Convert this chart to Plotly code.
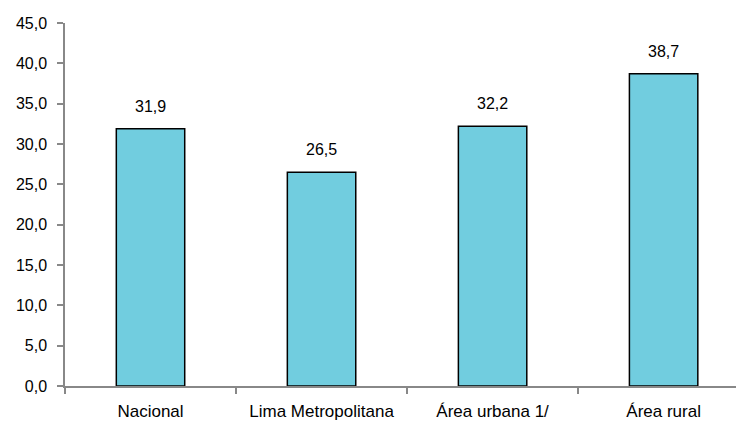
import plotly.graph_objects as go

categories = ["Nacional", "Lima Metropolitana", "Área urbana 1/", "Área rural"]
values = [31.9, 26.5, 32.2, 38.7]
y_ticks = [0, 5, 10, 15, 20, 25, 30, 35, 40, 45]

FONT = "Liberation Sans Narrow, Arial Narrow, Liberation Sans, Arial, sans-serif"

fig = go.Figure()
fig.add_trace(go.Bar(
    x=categories, y=values,
    marker=dict(color="#71CDDF", line=dict(color="#000000", width=1.5)),
))

for c, v in zip(categories, values):
    fig.add_annotation(x=c, y=v, text=f"{v:.1f}".replace(".", ","),
                       showarrow=False, yanchor="bottom", yshift=12,
                       font=dict(family=FONT, size=16, color="#000000"))

# page body has an 8px offset; size the figure to fit the visible window
fig.update_layout(
    width=736, height=413,
    margin=dict(l=57, r=0, t=15, b=34.5),
    paper_bgcolor="white", plot_bgcolor="white",
    bargap=0.6, showlegend=False,
    separators=",.",
    font=dict(family=FONT, size=16, color="#000000"),
)
fig.update_xaxes(
    range=[-0.5, 3.47], showline=True, linecolor="#888888", linewidth=1.5,
    ticks="outside", tickson="boundaries", ticklen=6, tickcolor="#888888",
    tickwidth=1.5, showgrid=False, zeroline=False,
    ticklabelstandoff=9, tickfont=dict(size=17),
)
fig.update_yaxes(
    range=[0, 45], tickvals=y_ticks, tickformat=".1f",
    showline=True, linecolor="#888888", linewidth=1.5,
    ticks="outside", ticklen=6, tickcolor="#888888", tickwidth=1.5,
    showgrid=False, zeroline=False, ticklabelstandoff=7,
)

fig.write_html("out.html")
